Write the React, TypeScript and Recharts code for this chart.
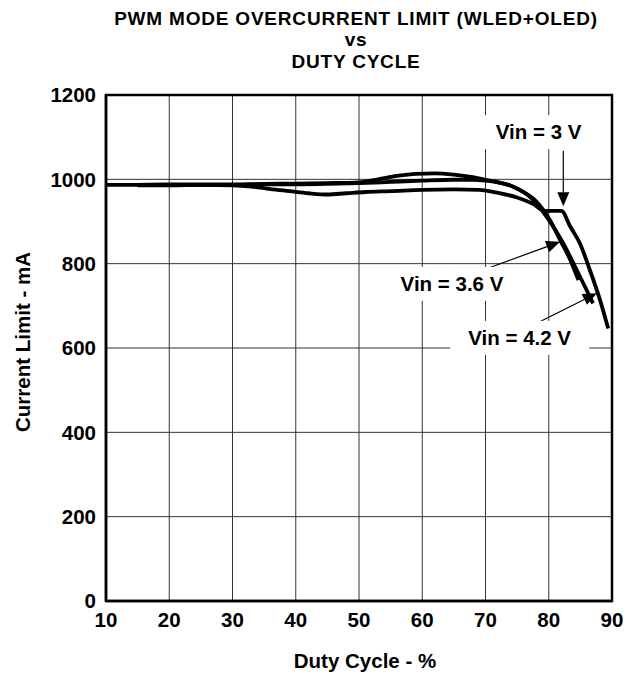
import { LineChart, Line, XAxis, YAxis, CartesianGrid, ReferenceLine, ReferenceDot, ReferenceArea } from 'recharts';

// duty cycle (%) / current limit (mA)
const duty3V = [10, 15, 20, 25, 30, 33, 36, 39, 42, 45, 48, 51, 55, 60, 65, 69, 72, 75, 77.5, 79.4, 80.5, 82.0, 83.4, 84.9, 86.5, 88.1, 89.4];
const current3V = [987, 987, 987, 987, 986, 983, 977, 972, 967, 964, 967, 970, 972, 975, 976, 975, 968, 957, 942, 925, 925, 925, 888, 849, 785, 714, 646];

const duty36V = [15, 20, 25, 30, 35, 40, 45, 50, 53, 56, 59, 62, 65, 68, 70, 72, 74, 76, 78, 80.2, 81.8, 83.4, 84.7];
const current36V = [987, 988, 988, 988, 989, 990, 991, 993, 1000, 1008, 1013, 1014, 1011, 1005, 999, 993, 985, 970, 948, 903, 856, 809, 761];

const duty42V = [15, 20, 25, 30, 35, 40, 45, 50, 55, 60, 65, 68, 70, 72, 74, 76, 77.5, 79.1, 80.7, 82.3, 83.9, 86.0, 87.0];
const current42V = [986, 986, 987, 987, 988, 988, 989, 991, 994, 997, 999, 999, 997, 993, 985, 970, 952, 923, 888, 848, 801, 737, 706];

const xTicks = [10, 20, 30, 40, 50, 60, 70, 80, 90];
const yTicks = [0, 200, 400, 600, 800, 1000, 1200];

const titleLines = ['PWM MODE OVERCURRENT LIMIT (WLED+OLED)', 'vs', 'DUTY CYCLE'];

const labels = ['Vin = 3 V', 'Vin = 3.6 V', 'Vin = 4.2 V'];
const labelAt = [
  { x: 78.4, y: 1112 },
  { x: 64.7, y: 752 },
  { x: 75.4, y: 624 },
];
const arrows = [
  [{ x: 82.3, y: 1068 }, { x: 82.3, y: 936 }],
  [{ x: 70.4, y: 789 }, { x: 81.8, y: 852 }],
  [{ x: 75.5, y: 639 }, { x: 87.6, y: 730 }],
];

const toPoints = (xs: number[], ys: number[]) => xs.map((x, i) => ({ x, y: ys[i] }));
const series = [toPoints(duty3V, current3V), toPoints(duty36V, current36V), toPoints(duty42V, current42V)];

const font = '"Liberation Sans", Arial, sans-serif';

function Arrow(props: any) {
  const { x1, y1, x2, y2 } = props;
  const a = Math.atan2(y2 - y1, x2 - x1);
  const len = 14;
  const w = 6;
  const bx = x2 - len * Math.cos(a);
  const by = y2 - len * Math.sin(a);
  const px = -Math.sin(a) * w;
  const py = Math.cos(a) * w;
  return (
    <g>
      <line x1={x1} y1={y1} x2={bx} y2={by} stroke="#000" strokeWidth={1.2} />
      <polygon points={`${x2},${y2} ${bx + px},${by + py} ${bx - px},${by - py}`} fill="#000" />
    </g>
  );
}

function BoxLabel(text: string) {
  return (props: any) => {
    const { cx, cy } = props;
    const w = text.length * 11 + 18;
    return (
      <g>
        <rect x={cx - w / 2} y={cy - 17} width={w} height={34} fill="#fff" />
        <text x={cx} y={cy} dy="0.36em" textAnchor="middle" fontFamily={font} fontWeight="bold" fontSize={20.5} fill="#000">
          {text}
        </text>
      </g>
    );
  };
}

export default function App() {
  return (
    <div style={{ position: 'absolute', left: 0, top: 0, width: 631, height: 675, background: '#fff', fontFamily: font }}>
      {titleLines.map((t, i) => (
        <div
          key={t}
          style={{
            position: 'absolute',
            left: 56,
            width: 600,
            top: 7.6 + i * 21.5,
            height: 21.5,
            textAlign: 'center',
            fontWeight: 'bold',
            fontSize: 19,
            lineHeight: '21.5px',
            letterSpacing: 0.8,
            whiteSpace: 'nowrap',
          }}
        >
          {t}
        </div>
      ))}
      <LineChart width={631} height={675} data={series[0]} margin={{ top: 95, right: 19, bottom: 0, left: 0 }}>
        <CartesianGrid stroke="#333" strokeWidth={1} />
        <XAxis
          type="number"
          dataKey="x"
          domain={[10, 90]}
          ticks={xTicks}
          height={74}
          tickLine={false}
          tickSize={0}
          tickMargin={11}
          axisLine={{ stroke: '#000', strokeWidth: 2.5 }}
          tick={{ fill: '#000', fontSize: 20.5, fontWeight: 'bold', fontFamily: font }}
          interval={0}
        />
        <YAxis
          type="number"
          domain={[0, 1200]}
          ticks={yTicks}
          width={106}
          tickLine={false}
          tickSize={0}
          tickMargin={10}
          axisLine={{ stroke: '#000', strokeWidth: 2.5 }}
          tick={{ fill: '#000', fontSize: 20.5, fontWeight: 'bold', fontFamily: font }}
          interval={0}
        />
        <ReferenceArea x1={10} x2={90} y1={0} y2={1200} fill="none" stroke="#000" strokeWidth={2.5} />
        {series.map((d, i) => (
          <Line
            key={labels[i]}
            data={d}
            dataKey="y"
            type="monotone"
            stroke="#000"
            strokeWidth={3.8}
            dot={false}
            isAnimationActive={false}
          />
        ))}
        {labels.map((t, i) => (
          <ReferenceDot key={t} x={labelAt[i].x} y={labelAt[i].y} r={0} shape={BoxLabel(t)} />
        ))}
        {arrows.map((seg, i) => (
          <ReferenceLine key={i} segment={seg} shape={Arrow} />
        ))}
      </LineChart>
      <div style={{ position: 'absolute', left: 115, width: 500, top: 650, textAlign: 'center', fontWeight: 'bold', fontSize: 20.5, lineHeight: '22px' }}>
        Duty Cycle - %
      </div>
      <div
        style={{
          position: 'absolute',
          left: 23,
          top: 342,
          transform: 'translate(-50%, -50%) rotate(-90deg)',
          whiteSpace: 'nowrap',
          fontWeight: 'bold',
          fontSize: 20.5,
          lineHeight: '22px',
        }}
      >
        Current Limit - mA
      </div>
    </div>
  );
}
